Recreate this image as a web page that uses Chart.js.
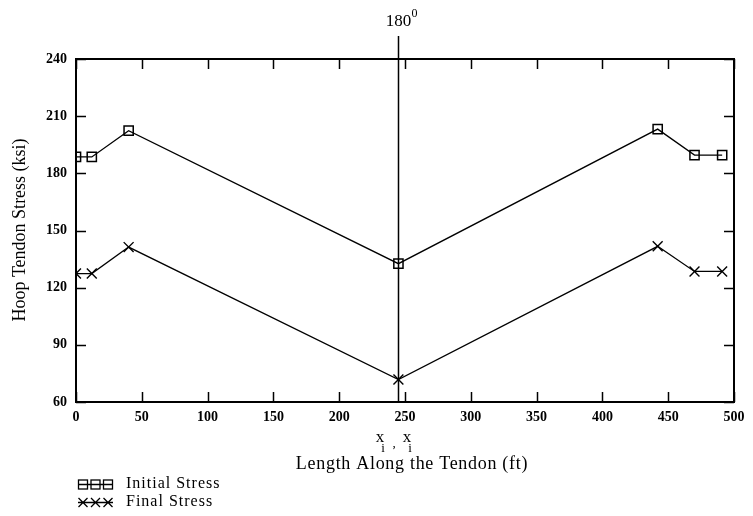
<!DOCTYPE html>
<html>
<head>
<meta charset="utf-8">
<script src="https://cdn.jsdelivr.net/npm/chart.js@4/dist/chart.umd.min.js"></script>
<style>
  html, body { margin: 0; padding: 0; background: #fff; }
  #wrap { width: 753px; height: 516px; position: relative; }
</style>
</head>
<body>
<div id="wrap"><canvas id="c" width="753" height="516"></canvas></div>
<script>
// ---- data ----
const lengthAlong = [0, 12, 40, 245, 442, 470, 491];           // ft
const initialStress = [188.6, 188.6, 202.4, 132.6, 203.2, 189.6, 189.6]; // ksi
const finalStress   = [127.4, 127.4, 141.3, 71.8, 141.7, 128.5, 128.5];  // ksi
const markerX = 245;            // 180° vertical line position
const markerLabel = '180';
const xTicks = [0, 50, 100, 150, 200, 250, 300, 350, 400, 450, 500];
const yTicks = [60, 90, 120, 150, 180, 210, 240];
const seriesNames = ['Initial Stress', 'Final Stress'];
const yTitle = 'Hoop Tendon Stress (ksi)';
const xTitle = 'Length Along the Tendon (ft)';

const SERIF = '"Liberation Serif", "Times New Roman", serif';

function pts(xs, ys) { return xs.map((x, i) => ({ x: x, y: ys[i] })); }

const decor = {
  id: 'decor',
  afterDraw(chart) {
    const ctx = chart.ctx;
    const a = chart.chartArea;
    const xs = chart.scales.x, ys = chart.scales.y;
    ctx.save();
    ctx.strokeStyle = '#000';
    ctx.fillStyle = '#000';
    // frame
    ctx.lineWidth = 2;
    ctx.strokeRect(a.left, a.top, a.right - a.left, a.bottom - a.top);
    // inward ticks on all four sides
    ctx.lineWidth = 1.5;
    const TL = 10;
    ctx.beginPath();
    xs.ticks.forEach(t => {
      const px = Math.round(xs.getPixelForValue(t.value)) + 0.5;
      ctx.moveTo(px, a.bottom); ctx.lineTo(px, a.bottom - TL);
      ctx.moveTo(px, a.top); ctx.lineTo(px, a.top + TL);
    });
    ys.ticks.forEach(t => {
      const py = Math.round(ys.getPixelForValue(t.value)) + 0.5;
      ctx.moveTo(a.left, py); ctx.lineTo(a.left + TL, py);
      ctx.moveTo(a.right, py); ctx.lineTo(a.right - TL, py);
    });
    ctx.stroke();
    // 180° vertical marker line
    const vx = Math.round(xs.getPixelForValue(markerX)) + 0.5;
    ctx.lineWidth = 1.5;
    ctx.beginPath();
    ctx.moveTo(vx, 36); ctx.lineTo(vx, a.bottom);
    ctx.stroke();
    ctx.textBaseline = 'middle';
    ctx.textAlign = 'center';
    ctx.font = '17px ' + SERIF;
    ctx.fillText(markerLabel, vx, 22);
    ctx.font = '12px ' + SERIF;
    ctx.textAlign = 'left';
    ctx.fillText('0', vx + 13, 14);

    // y-axis title
    ctx.save();
    ctx.translate(20, 230);
    ctx.rotate(-Math.PI / 2);
    ctx.textAlign = 'center';
    ctx.font = '18px ' + SERIF;
    ctx.fillText(yTitle, 0, 0);
    ctx.restore();

    // x-axis variable label: x_i , x_i
    ctx.textAlign = 'center';
    ctx.font = '17px ' + SERIF;
    ctx.fillText('x', 380, 438);
    ctx.fillText('x', 407, 438);
    ctx.font = '13px ' + SERIF;
    ctx.fillText('i', 383, 449);
    ctx.fillText('i', 410, 449);
    ctx.fillText(',', 394, 444);
    // x-axis title
    ctx.font = '18px ' + SERIF;
    if ('letterSpacing' in ctx) ctx.letterSpacing = '0.7px';
    ctx.fillText(xTitle, 412, 464);

    // legend
    ctx.textAlign = 'left';
    ctx.font = '16px ' + SERIF;
    if ('letterSpacing' in ctx) ctx.letterSpacing = '1px';
    const rows = [484, 502];
    ctx.fillText(seriesNames[0], 126, rows[0]);
    ctx.fillText(seriesNames[1], 126, rows[1]);
    if ('letterSpacing' in ctx) ctx.letterSpacing = '0px';
    ctx.lineWidth = 1.3;
    // initial: line + squares
    ctx.beginPath();
    ctx.moveTo(78, rows[0] + 0.5); ctx.lineTo(113, rows[0] + 0.5);
    ctx.stroke();
    [83, 95.5, 108].forEach(cx => { ctx.strokeRect(cx - 4.5, rows[0] - 4, 9, 9); });
    // final: line + crosses
    ctx.beginPath();
    ctx.moveTo(78, rows[1] + 0.5); ctx.lineTo(113, rows[1] + 0.5);
    [83, 95.5, 108].forEach(cx => {
      ctx.moveTo(cx - 4.5, rows[1] - 4); ctx.lineTo(cx + 4.5, rows[1] + 5);
      ctx.moveTo(cx + 4.5, rows[1] - 4); ctx.lineTo(cx - 4.5, rows[1] + 5);
    });
    ctx.stroke();
    ctx.restore();
  }
};

new Chart(document.getElementById('c'), {
  type: 'line',
  data: {
    datasets: [
      {
        label: seriesNames[0],
        data: pts(lengthAlong, initialStress),
        borderColor: '#000',
        borderWidth: 1.3,
        backgroundColor: 'rgba(0,0,0,0)',
        pointStyle: 'rect',
        pointRadius: 6.5,
        pointBorderWidth: 1.5,
        pointBorderColor: '#000',
        pointBackgroundColor: 'rgba(0,0,0,0)',
        tension: 0,
        fill: false
      },
      {
        label: seriesNames[1],
        data: pts(lengthAlong, finalStress),
        borderColor: '#000',
        borderWidth: 1.3,
        backgroundColor: 'rgba(0,0,0,0)',
        pointStyle: 'crossRot',
        pointRadius: 7,
        pointBorderWidth: 1.4,
        pointBorderColor: '#000',
        tension: 0,
        fill: false
      }
    ]
  },
  options: {
    responsive: false,
    animation: false,
    devicePixelRatio: 1,
    layout: { padding: { left: 0, top: 59, right: 19, bottom: 0 } },
    plugins: { legend: { display: false }, tooltip: { enabled: false }, title: { display: false } },
    scales: {
      x: {
        type: 'linear',
        min: 0, max: 500,
        afterFit(s) { s.height = 114; },
        afterBuildTicks(s) { s.ticks = xTicks.map(v => ({ value: v })); },
        grid: { display: false, drawTicks: false },
        border: { display: false },
        ticks: {
          autoSkip: false, maxRotation: 0, padding: 7,
          color: '#000',
          font: { family: SERIF, size: 14, weight: 'bold' }
        }
      },
      y: {
        type: 'linear',
        min: 60, max: 240,
        afterFit(s) { s.width = 76; },
        afterBuildTicks(s) { s.ticks = yTicks.map(v => ({ value: v })); },
        grid: { display: false, drawTicks: false },
        border: { display: false },
        ticks: {
          autoSkip: false, padding: 9,
          color: '#000',
          font: { family: SERIF, size: 14, weight: 'bold' }
        }
      }
    }
  },
  plugins: [decor]
});
</script>
</body>
</html>
